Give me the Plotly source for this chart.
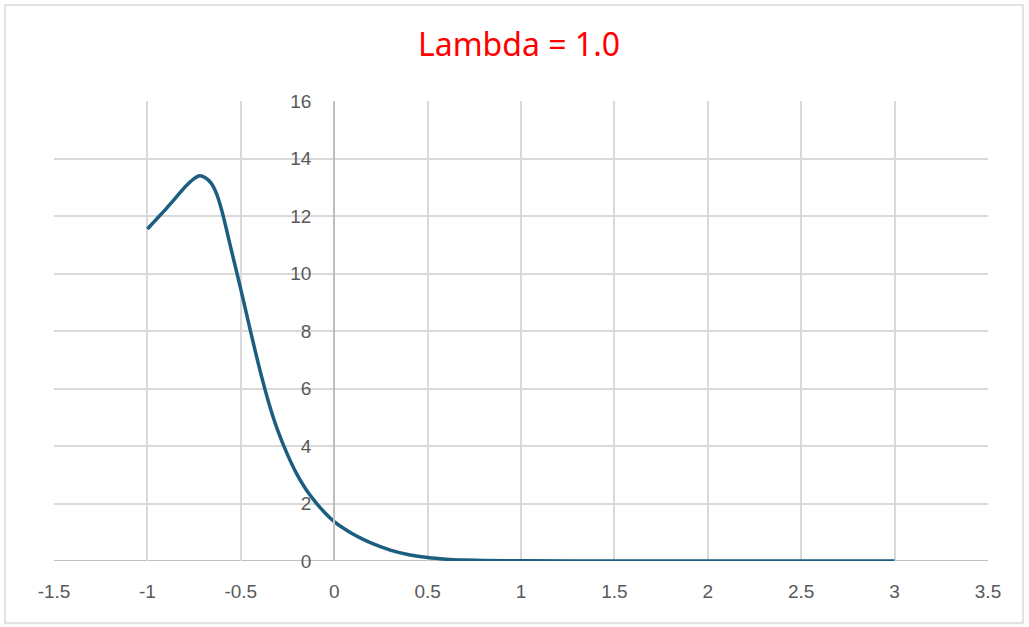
import plotly.graph_objects as go

x_vals = [-1.0, -0.95, -0.9, -0.85, -0.8, -0.75, -0.72, -0.69, -0.66, -0.63, -0.6, -0.55,
          -0.5, -0.45, -0.4, -0.35, -0.3, -0.25, -0.2, -0.15, -0.1, -0.05, 0.0, 0.05, 0.1,
          0.15, 0.2, 0.3, 0.4, 0.5, 0.6, 0.7, 0.8, 1.0, 1.5, 2.0, 2.5, 3.0]
y_vals = [11.55, 11.9, 12.25, 12.62, 13.0, 13.3, 13.4, 13.33, 13.15, 12.78, 12.15, 10.8,
          9.45, 8.05, 6.7, 5.5, 4.5, 3.7, 3.02, 2.48, 2.05, 1.68, 1.37, 1.14, 0.94,
          0.77, 0.62, 0.38, 0.22, 0.12, 0.065, 0.035, 0.018, 0.005, 0.0, 0.0, 0.0, 0.0]

x_ticks = [-1.5, -1, -0.5, 0, 0.5, 1, 1.5, 2, 2.5, 3, 3.5]
y_ticks = [0, 2, 4, 6, 8, 10, 12, 14, 16]

L, R, T, B = 54, 41, 101, 66
W, H = 1029, 627
pw, ph = W - L - R, H - T - B

fig = go.Figure()
fig.add_trace(go.Scatter(
    x=x_vals, y=y_vals, mode="lines",
    line=dict(color="#1b5e80", width=3.5, shape="spline", smoothing=0.8),
    hoverinfo="x+y", showlegend=False,
))

tick_font = dict(family="Liberation Sans, Arial, sans-serif", size=19, color="#595959")

fig.update_layout(
    width=W, height=H,
    margin=dict(l=L, r=R, t=T, b=B),
    paper_bgcolor="white", plot_bgcolor="white",
    title=dict(text="Lambda = 1.0", x=(519 - L) / pw, xref="paper", xanchor="center",
               y=1 - 45 / H, yanchor="middle",
               font=dict(family="Noto Sans, Open Sans, sans-serif", size=32, color="#ff0000")),
    xaxis=dict(range=[-1.5, 3.5], tickvals=x_ticks, ticktext=[str(v) for v in x_ticks],
               showgrid=True, gridcolor="#d9d9d9", gridwidth=2,
               zeroline=False, showline=False, ticks="", ticklabelstandoff=17,
               tickfont=tick_font, fixedrange=True),
    yaxis=dict(range=[0, 16], tickvals=y_ticks, showgrid=True, gridcolor="#d9d9d9",
               gridwidth=2, zeroline=False, anchor="free", position=1.5 / 5,
               showline=True, linecolor="#bfbfbf", linewidth=2, ticks="",
               ticklabelstandoff=18, tickfont=tick_font, fixedrange=True),
)

# x axis line at y = 0
fig.add_shape(type="line", xref="paper", yref="y", x0=0, x1=1, y0=0, y1=0,
              line=dict(color="#bfbfbf", width=2), layer="below")
# outer chart border
fig.add_shape(type="rect", xref="paper", yref="paper",
              x0=(5 - L) / pw, x1=(1023 - L) / pw,
              y0=(H - B - 623) / ph, y1=(H - B - 5) / ph,
              line=dict(color="#d9d9d9", width=1.5), fillcolor="rgba(0,0,0,0)")

fig.write_html("out.html")
